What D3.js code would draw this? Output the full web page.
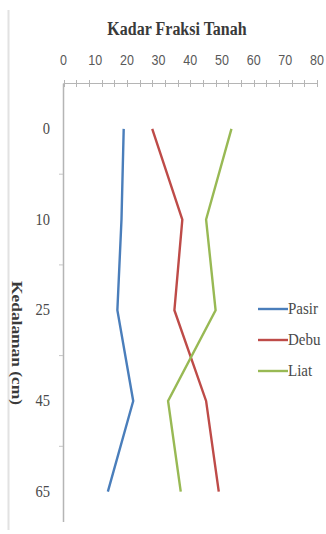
<!DOCTYPE html>
<html>
<head>
<meta charset="utf-8">
<script src="https://cdn.jsdelivr.net/npm/d3@7"></script>
<style>
  body { margin: 0; background: #fff; }
  svg { display: block; }
</style>
</head>
<body>
<svg id="viz" width="326" height="534"></svg>
<script>
// depth categories (cm) and soil fraction values (%)
const depths = ['0', '10', '25', '45', '65']
const pasir = [19, 18.3, 17, 22, 14]
const debu = [28, 37.5, 35, 45, 49]
const liat = [53, 45, 48, 33, 37]
const xTicks = [0, 10, 20, 30, 40, 50, 60, 70, 80]

const series = [
  { name: 'Pasir', values: pasir, color: '#4a7ebb' },
  { name: 'Debu', values: debu, color: '#be4b48' },
  { name: 'Liat', values: liat, color: '#98b954' }
]

// the original picture is a bit stretched vertically
const stretch = 1.15

let svg = d3.select('#viz')

// thin frame line on the left
svg.append('line')
  .attr('x1', 8.5).attr('x2', 8.5)
  .attr('y1', 10).attr('y2', 530)
  .style('stroke', '#e2e2e2')
  .style('stroke-width', 2)

let x = d3.scaleLinear().domain([0, 80]).range([63.5, 317])
let y = d3.scaleBand().domain(depths).range([83.5, 537])

// title
svg.append('text')
  .attr('transform', 'translate(177,35) scale(1,' + stretch + ')')
  .attr('text-anchor', 'middle')
  .style('font-family', 'Liberation Serif, serif')
  .style('font-weight', 'bold')
  .style('font-size', '16px')
  .style('fill', '#3a3a3a')
  .text('Kadar Fraksi Tanah')

// top axis
let topAxis = svg.append('g')
topAxis.append('line')
  .attr('x1', x(0)).attr('x2', x(80))
  .attr('y1', 83.5).attr('y2', 83.5)
  .style('stroke', '#b5b5b5')
topAxis.selectAll('.minor')
  .data(d3.range(0, 81, 4))
  .enter()
  .append('line')
  .attr('x1', d => Math.round(x(d)) + 0.5)
  .attr('x2', d => Math.round(x(d)) + 0.5)
  .attr('y1', 80).attr('y2', 87)
  .style('stroke', '#b5b5b5')
topAxis.selectAll('.xlabel')
  .data(xTicks)
  .enter()
  .append('text')
  .attr('transform', d => 'translate(' + x(d) + ',65) scale(1,' + stretch + ')')
  .attr('text-anchor', 'middle')
  .style('font-family', 'Liberation Sans, sans-serif')
  .style('font-size', '12.5px')
  .style('fill', '#595959')
  .text(d => d)

// left axis
let leftAxis = svg.append('g')
leftAxis.append('line')
  .attr('x1', 63.5).attr('x2', 63.5)
  .attr('y1', 83.5).attr('y2', 522)
  .style('stroke', '#b5b5b5')
  .style('stroke-width', 1.5)
leftAxis.selectAll('.ytick')
  .data(depths.slice(1))
  .enter()
  .append('line')
  .attr('x1', 59).attr('x2', 63)
  .attr('y1', d => y(d))
  .attr('y2', d => y(d))
  .style('stroke', '#c5c5c5')
leftAxis.selectAll('.ylabel')
  .data(depths)
  .enter()
  .append('text')
  .attr('transform', d => 'translate(50,' + (y(d) + y.bandwidth() / 2 + 5) + ') scale(1,' + stretch + ')')
  .attr('text-anchor', 'end')
  .style('font-family', 'Liberation Serif, serif')
  .style('font-size', '14.5px')
  .style('fill', '#4a4a4a')
  .text(d => d)

// y title, rotated (stretched along its length)
svg.append('text')
  .attr('transform', 'translate(12,343) rotate(90) scale(' + 1.2 + ',1)')
  .attr('text-anchor', 'middle')
  .style('font-family', 'Liberation Serif, serif')
  .style('font-weight', 'bold')
  .style('font-size', '14.5px')
  .style('fill', '#3a3a3a')
  .text('Kedalaman (cm)')

// lines
let line = d3.line()
  .x(d => x(d[1]))
  .y(d => y(d[0]) + y.bandwidth() / 2)

svg.selectAll('.series')
  .data(series)
  .enter()
  .append('path')
  .attr('d', s => line(depths.map((dp, i) => [dp, s.values[i]])))
  .style('fill', 'none')
  .style('stroke', s => s.color)
  .style('stroke-width', 2.4)

// legend
let legend = svg.selectAll('.legend')
  .data(series)
  .enter()
  .append('g')
  .attr('transform', (d, i) => 'translate(258,' + (309 + i * 31) + ')')
legend.append('line')
  .attr('x1', 0).attr('x2', 30)
  .attr('y1', 0).attr('y2', 0)
  .style('stroke', d => d.color)
  .style('stroke-width', 2.4)
legend.append('text')
  .attr('transform', 'translate(30,5) scale(1,' + stretch + ')')
  .style('font-family', 'Liberation Serif, serif')
  .style('font-size', '15px')
  .style('fill', '#4a4a4a')
  .text(d => d.name)
</script>
</body>
</html>
